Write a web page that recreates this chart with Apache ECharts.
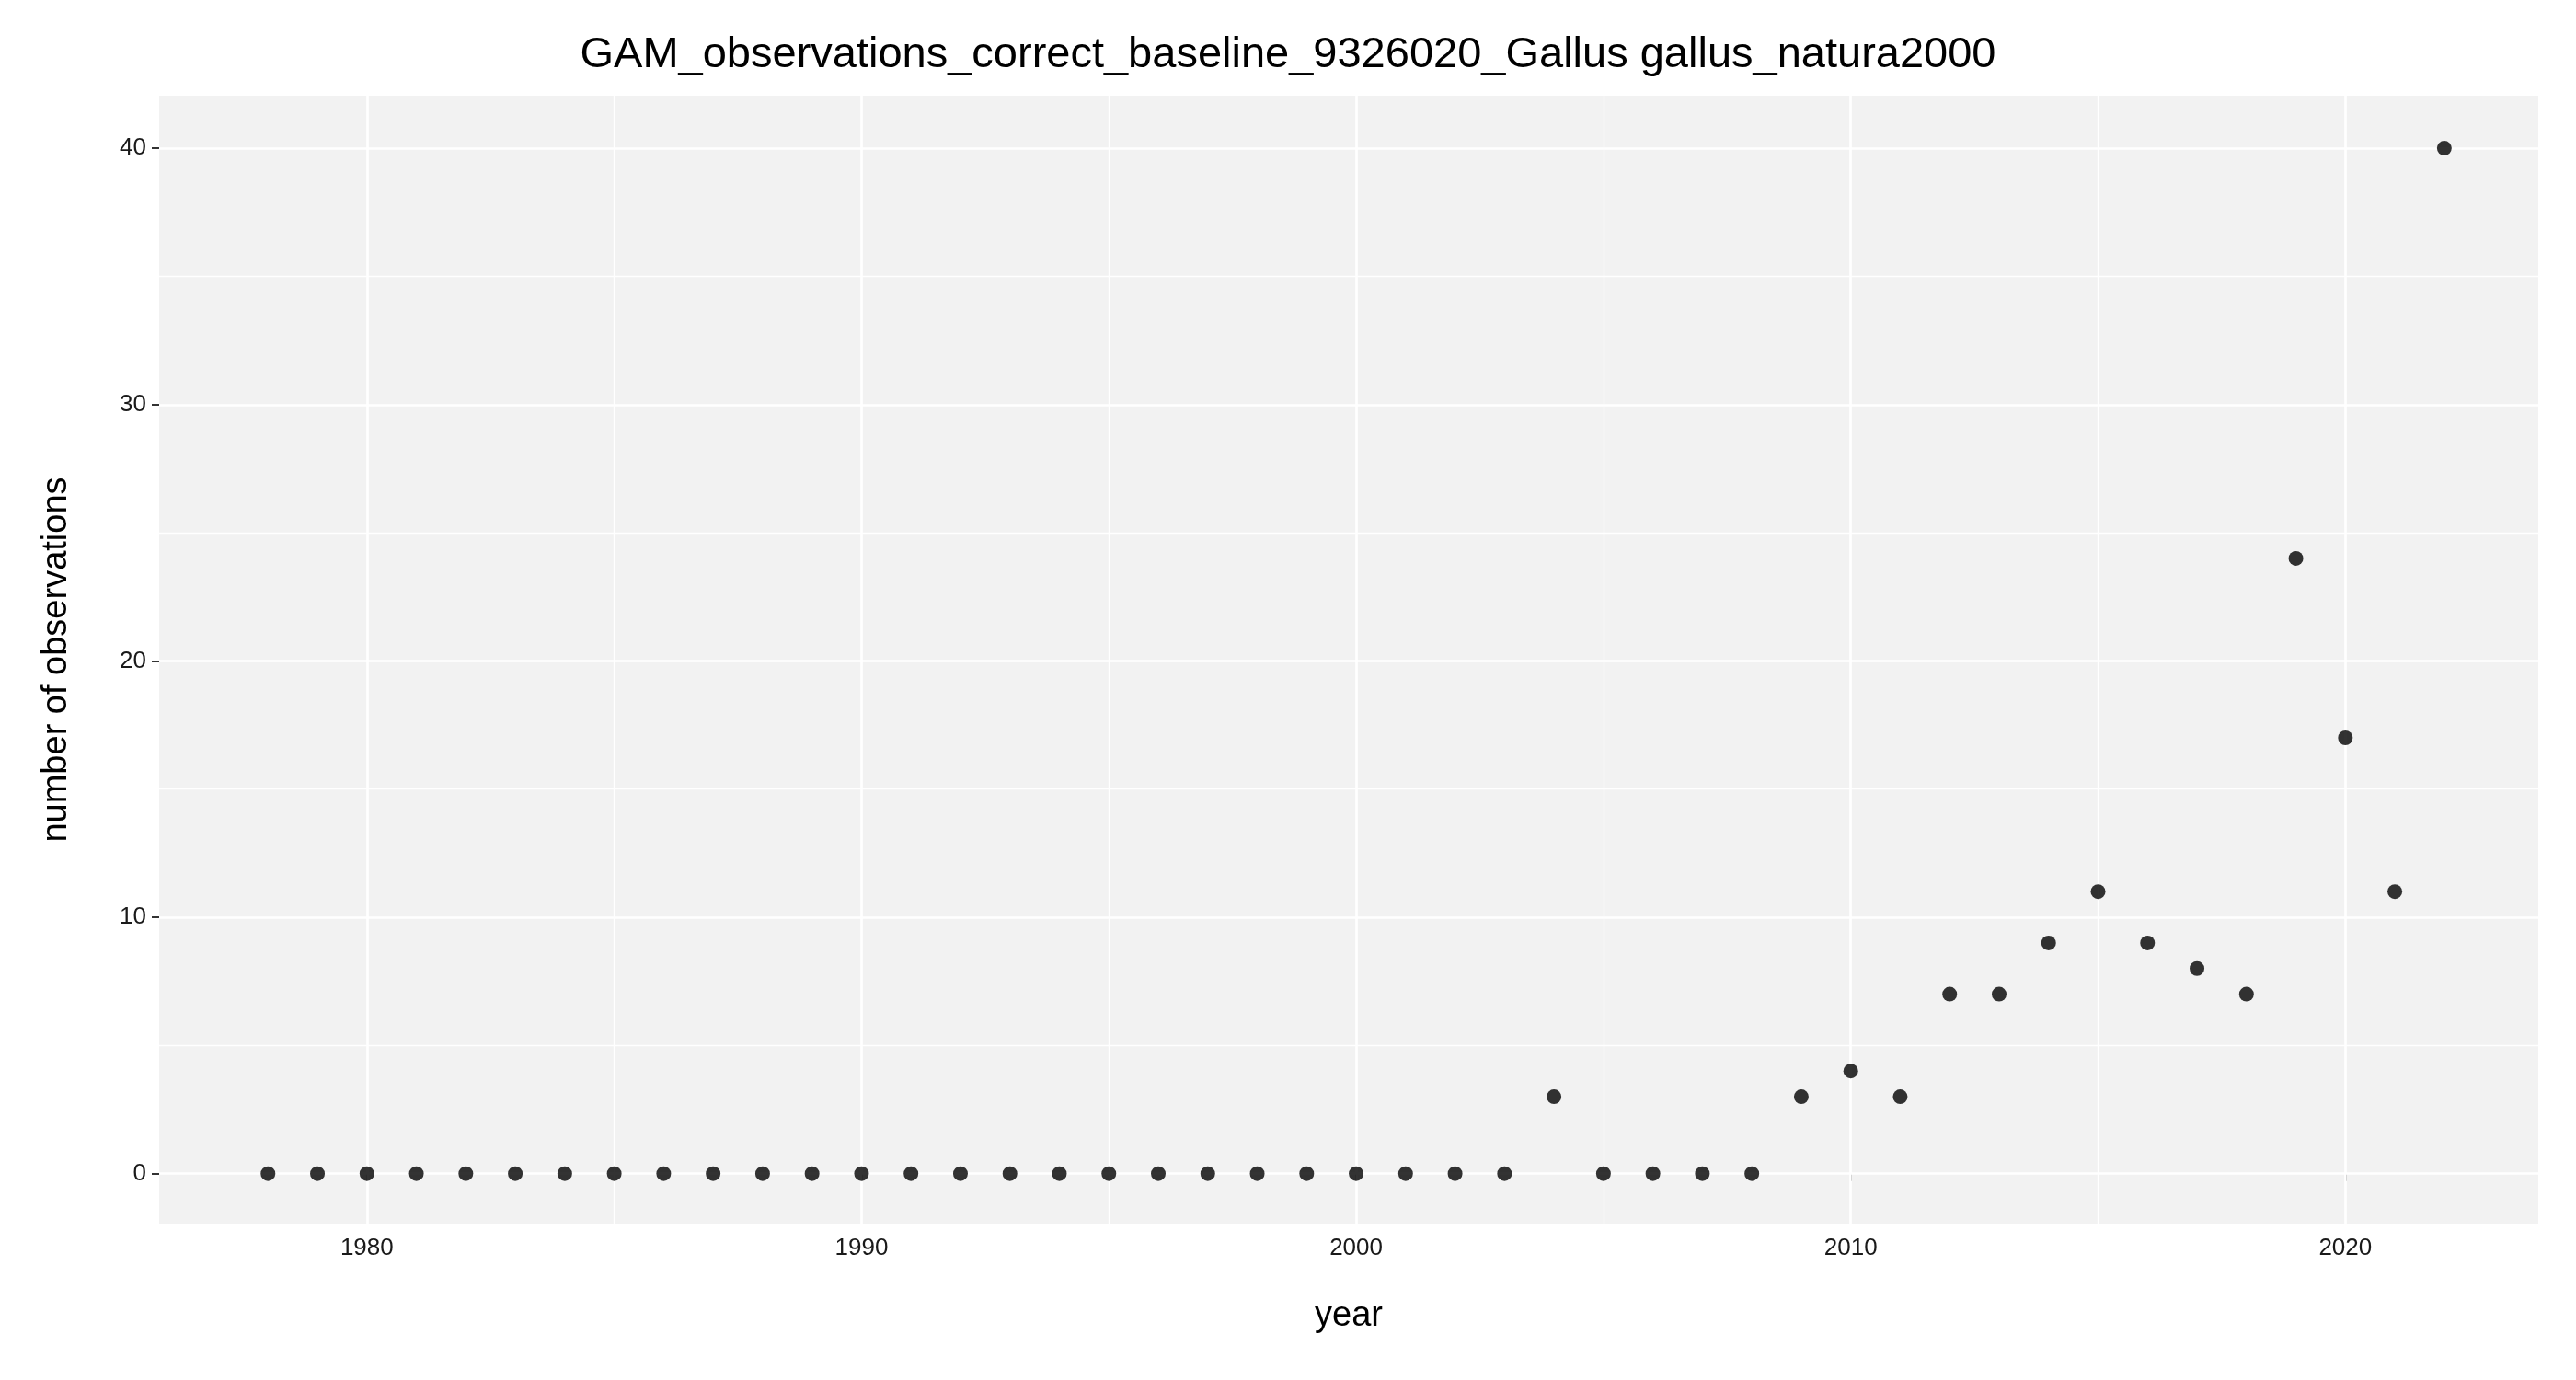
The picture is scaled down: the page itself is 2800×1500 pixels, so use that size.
<!DOCTYPE html>
<html>
<head>
<meta charset="utf-8">
<script src="https://cdn.jsdelivr.net/npm/echarts@6/dist/echarts.min.js"></script>
<style>html,body{margin:0;padding:0;background:#fff}#chart{width:2800px;height:1500px}</style>
</head>
<body>
<div id="chart"></div>
<script>
const years = [1978,1979,1980,1981,1982,1983,1984,1985,1986,1987,1988,1989,1990,1991,1992,1993,1994,1995,1996,1997,1998,1999,2000,2001,2002,2003,2004,2005,2006,2007,2008,2009,2010,2011,2012,2013,2014,2015,2016,2017,2018,2019,2020,2021,2022];
const observations = [0,0,0,0,0,0,0,0,0,0,0,0,0,0,0,0,0,0,0,0,0,0,0,0,0,0,3,0,0,0,0,3,4,3,7,7,9,11,9,8,7,24,17,11,40];
const xMajor = [1980,1990,2000,2010,2020];
const xMinor = [1985,1995,2005,2015];
const yMajor = [0,10,20,30,40];
const yMinor = [5,15,25,35];

const chart = echarts.init(document.getElementById('chart'));
const lineX = (v, w) => ({ xAxis: v, lineStyle: { color: '#fff', width: w, type: 'solid' } });
const lineY = (v, w) => ({ yAxis: v, lineStyle: { color: '#fff', width: w, type: 'solid' } });

chart.setOption({
  backgroundColor: '#fff',
  animation: false,
  title: {
    text: 'GAM_observations_correct_baseline_9326020_Gallus gallus_natura2000',
    left: 'center', top: 32,
    textStyle: { fontFamily: 'Liberation Sans', fontWeight: 'normal', fontSize: 47, color: '#000' }
  },
  grid: { left: 173, right: 41, top: 104, bottom: 170, backgroundColor: '#f2f2f2', show: true, borderWidth: 0 },
  xAxis: {
    type: 'value', min: 1975.8, max: 2023.9,
    name: 'year', nameLocation: 'middle', nameGap: 82,
    nameTextStyle: { fontFamily: 'Liberation Sans', fontSize: 38, color: '#000' },
    axisLine: { show: false },
    axisTick: { show: true, length: 8, lineStyle: { color: '#333', width: 2 }, customValues: xMajor },
    axisLabel: { fontFamily: 'Liberation Sans', fontSize: 26, color: '#1a1a1a', margin: 14, customValues: xMajor, formatter: v => String(v) },
    splitLine: { show: false }
  },
  yAxis: {
    type: 'value', min: -1.95, max: 42.05,
    name: 'number of observations', nameLocation: 'middle', nameGap: 92,
    nameTextStyle: { fontFamily: 'Liberation Sans', fontSize: 38, color: '#000' },
    axisLine: { show: false },
    axisTick: { show: true, length: 8, lineStyle: { color: '#333', width: 2 }, customValues: yMajor },
    axisLabel: { fontFamily: 'Liberation Sans', fontSize: 26, color: '#1a1a1a', margin: 14, customValues: yMajor, formatter: v => String(v) },
    splitLine: { show: false }
  },
  series: [{
    type: 'scatter',
    symbolSize: 16,
    itemStyle: { color: '#000' },
    data: years.map((y, i) => [y, observations[i]]),
    markLine: {
      silent: true, symbol: 'none', label: { show: false }, z: 1,
      data: [
        ...xMinor.map(v => lineX(v, 1.3)),
        ...yMinor.map(v => lineY(v, 1.3)),
        ...xMajor.map(v => lineX(v, 2.6)),
        ...yMajor.map(v => lineY(v, 2.6))
      ]
    }
  }]
});
</script>
</body>
</html>
